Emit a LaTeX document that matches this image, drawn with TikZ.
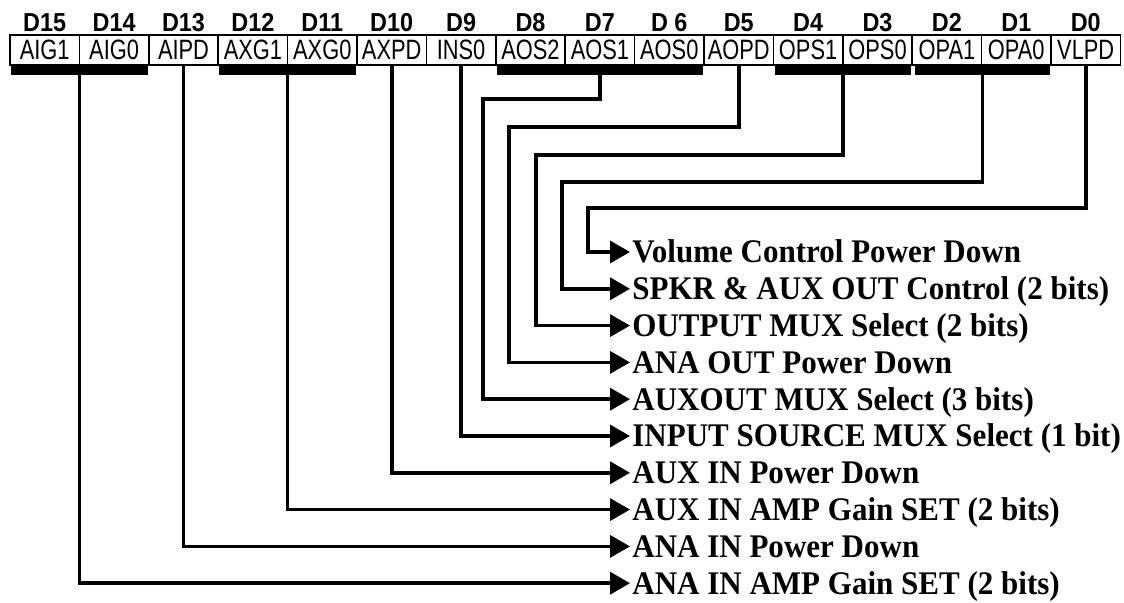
\documentclass[tikz,border=0pt]{standalone}
\usepackage{fontspec}
\setmainfont{Liberation Serif}
\newfontfamily\regfont[FakeStretch=0.78]{Liberation Sans}
\newfontfamily\bitfont[FakeStretch=0.9]{Liberation Sans}
\newfontfamily\descfont[FakeStretch=0.94]{Liberation Serif}
\usetikzlibrary{arrows.meta, positioning, fit}

\begin{document}
\begin{tikzpicture}[x=0.5pt, y=-0.5pt,
    cell/.style={rectangle, draw, line width=0.75pt, minimum width=34.7pt, minimum height=15pt, inner sep=0pt, text height=10pt, text depth=0pt, font=\regfont\fontsize{14}{14}\selectfont},
    bitno/.style={anchor=base, inner sep=0pt, font=\bitfont\bfseries\fontsize{13}{13}\selectfont},
    bar/.style={rectangle, fill=black, inner sep=0pt},
    desc/.style={anchor=west, inner xsep=1pt, inner ysep=0pt, text height=10.9pt, text depth=0pt, font=\descfont\bfseries\fontsize{16.5}{16.5}\selectfont},
    wire/.style={line width=1.8pt, -{Triangle[length=10pt,width=11pt]}}
]
    \useasboundingbox (0,0) rectangle (1124,603);

    % Register cells and bit numbers
    \foreach \reg/\bitlbl [count=\i from 0] in {AIG1/D15, AIG0/D14, AIPD/D13, AXG1/D12, AXG0/D11, AXPD/D10, INS0/D9, AOS2/D8, AOS1/D7, AOS0/D 6, AOPD/D5, OPS1/D4, OPS0/D3, OPA1/D2, OPA0/D1, VLPD/D0} {
        \pgfmathtruncatemacro\bit{15-\i}
        \node[cell] (c\bit) at ({10+69.4*(\i+0.5)},50) {\reg};
        \node[bitno] (d\bit) at ([yshift=1.5pt]c\bit.north) {\bitlbl};
    }

    % Field bars
    \node[bar, fit={([xshift=1pt]c15.south west) ([xshift=-1pt,yshift=-4.5pt]c14.south east)}] (gAIG) {};
    \node[bar, fit={([xshift=1pt]c12.south west) ([xshift=-1pt,yshift=-4.5pt]c11.south east)}] (gAXG) {};
    \node[bar, fit={([xshift=1pt]c8.south west) ([xshift=-1pt,yshift=-4.5pt]c6.south east)}] (gAOS) {};
    \node[bar, fit={([xshift=1pt]c4.south west) ([xshift=-1pt,yshift=-4.5pt]c3.south east)}] (gOPS) {};
    \node[bar, fit={([xshift=2pt]c2.south west) ([xshift=-1pt,yshift=-4.5pt]c1.south east)}] (gOPA) {};

    % Descriptions
    \foreach \bit/\txt [count=\k from 0] in {0/Volume Control Power Down, 2/SPKR \& AUX OUT Control (2 bits), 4/OUTPUT MUX Select (2 bits), 5/ANA OUT Power Down, 8/AUXOUT MUX Select (3 bits), 9/INPUT SOURCE MUX Select (1 bit), 10/AUX IN Power Down, 12/AUX IN AMP Gain SET (2 bits), 13/ANA IN Power Down, 15/ANA IN AMP Gain SET (2 bits)} {
        \node[desc] (l\bit) at (630,{252+36.8*\k}) {\txt};
    }

    % Connectors
    \draw[wire] (gAIG.south) |- (l15.west);
    \draw[wire] (c13.south) |- (l13.west);
    \draw[wire] (gAXG.south) |- (l12.west);
    \draw[wire] (c10.south) |- (l10.west);
    \draw[wire] (c9.south) |- (l9.west);
    \draw[wire] (gAOS.south) |- (483,99) |- (l8.west);
    \draw[wire] (c5.south) |- (509,127) |- (l5.west);
    \draw[wire] (gOPS.south) |- (536,155) |- (l4.west);
    \draw[wire] (gOPA.south) |- (562,182) |- (l2.west);
    \draw[wire] (c0.south) |- (588,208) |- (l0.west);
\end{tikzpicture}
\end{document}
